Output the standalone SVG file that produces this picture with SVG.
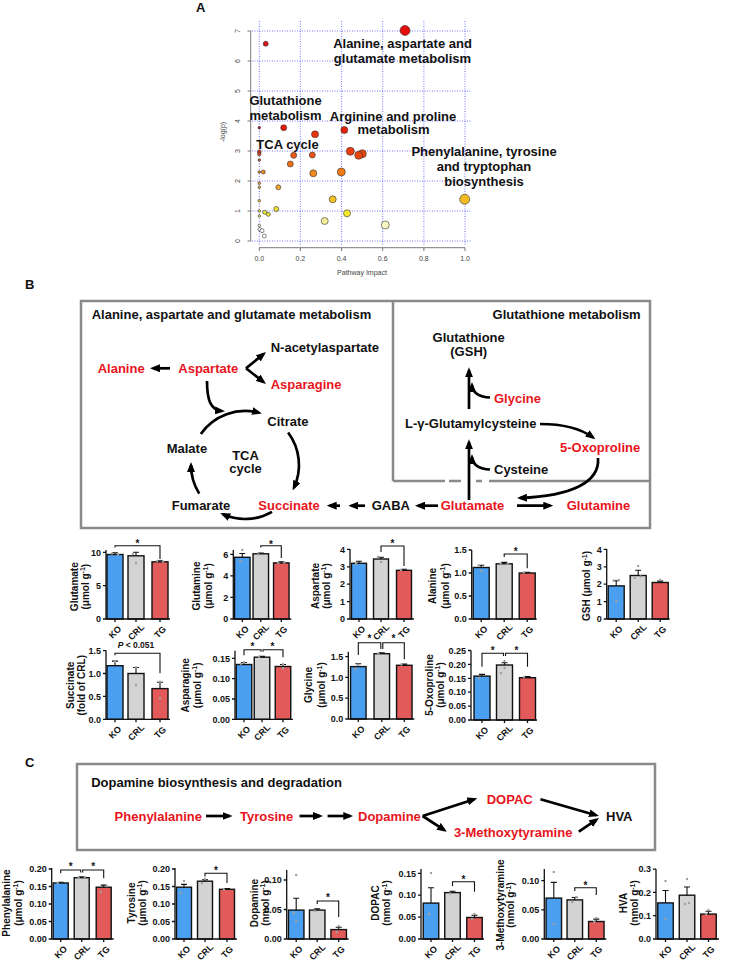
<svg xmlns="http://www.w3.org/2000/svg" width="734" height="961" viewBox="0 0 734 961">
<style>
text{font-family:'Liberation Sans',Arial,sans-serif;}
.pl{font-size:13px;font-weight:bold;fill:#111}
.red{fill:#e8141c}
.box{fill:none;stroke:#8a8a8a;stroke-width:2.5}
.arr{fill:none;stroke:#000;stroke-width:2.7;marker-end:url(#ah)}
.grid{stroke:#3b3bff;stroke-width:0.7;stroke-dasharray:1 1.5}
.axA{stroke:#555;stroke-width:0.8;fill:none}
.tA{font-size:7px;fill:#444;text-anchor:middle}
.bub{stroke:#333;stroke-width:0.6}
.ax{fill:none;stroke:#111;stroke-width:1.3}
.ko{fill:#4b9ff0;stroke:#111;stroke-width:1.4}
.crl{fill:#d3d3d3;stroke:#111;stroke-width:1.4}
.tg{fill:#e35a5a;stroke:#111;stroke-width:1.4}
.eb{fill:none;stroke:#111;stroke-width:1.1}
.br{fill:none;stroke:#111;stroke-width:1.1}
.tk{font-size:9px;font-weight:bold;text-anchor:end;fill:#111}
.xl{font-size:9px;font-weight:bold;text-anchor:middle;fill:#111}
.yl{font-size:10px;font-weight:bold;text-anchor:middle;fill:#111}
.st{font-size:10px;font-weight:bold;text-anchor:middle;fill:#111}
.dt{fill:#a0a0a0}
</style>
<defs>
<marker id="ah" viewBox="0 0 10 8" refX="7" refY="4" markerWidth="10" markerHeight="8" markerUnits="userSpaceOnUse" orient="auto"><path d="M0,0 L10,4 L0,8 z" fill="#000"/></marker>
</defs>
<rect width="734" height="961" fill="#fff"/>

<!-- Panel A -->
<g id="panelA">
<text class="pl" x="196" y="12">A</text>
<g class="grid">
<path d="M259.3,21V245 M300.4,21V245 M341.6,21V245 M382.7,21V245 M423.9,21V245 M465,21V245"/>
<path d="M252,241H472 M252,211H472 M252,181H472 M252,151H472 M252,121H472 M252,91H472 M252,61H472 M252,31H472"/>
</g>
<path class="axA" d="M250.7,31V241 M247.5,241H250.7 M247.5,211H250.7 M247.5,181H250.7 M247.5,151H250.7 M247.5,121H250.7 M247.5,91H250.7 M247.5,61H250.7 M247.5,31H250.7"/>
<path class="axA" d="M259.3,247.7H465 M259.3,247.7V251 M300.4,247.7V251 M341.6,247.7V251 M382.7,247.7V251 M423.9,247.7V251 M465,247.7V251"/>
<g class="tA">
<text transform="translate(239.5,241) rotate(-90)">0</text>
<text transform="translate(239.5,211) rotate(-90)">1</text>
<text transform="translate(239.5,181) rotate(-90)">2</text>
<text transform="translate(239.5,151) rotate(-90)">3</text>
<text transform="translate(239.5,121) rotate(-90)">4</text>
<text transform="translate(239.5,91) rotate(-90)">5</text>
<text transform="translate(239.5,61) rotate(-90)">6</text>
<text transform="translate(239.5,31) rotate(-90)">7</text>
<text x="259.3" y="260.5">0.0</text>
<text x="300.4" y="260.5">0.2</text>
<text x="341.6" y="260.5">0.4</text>
<text x="382.7" y="260.5">0.6</text>
<text x="423.9" y="260.5">0.8</text>
<text x="465" y="260.5">1.0</text>
<text x="362" y="275">Pathway Impact</text>
<text transform="translate(225,132) rotate(-90)">-log(p)</text>
</g>
<g class="bub">
<circle cx="405" cy="30.5" r="5" fill="#e60d0d"/>
<circle cx="265.7" cy="43.7" r="2.5" fill="#d81414"/>
<circle cx="283.7" cy="127.7" r="3" fill="#e61a0a"/>
<circle cx="259.3" cy="127.7" r="1.3" fill="#b01515"/>
<circle cx="315" cy="134.3" r="3.5" fill="#e8340c"/>
<circle cx="344.3" cy="130" r="3.5" fill="#e8200a"/>
<circle cx="350.3" cy="151.3" r="4" fill="#ea3c0c"/>
<circle cx="362.3" cy="153.7" r="4" fill="#ea450e"/>
<circle cx="358.7" cy="155.3" r="4" fill="#ea450e"/>
<circle cx="293.7" cy="155.3" r="3" fill="#ec5a14"/>
<circle cx="312.3" cy="155" r="3" fill="#ec5012"/>
<circle cx="290.3" cy="164" r="3" fill="#ee7018"/>
<circle cx="313.3" cy="173.3" r="3.5" fill="#f08a1e"/>
<circle cx="341.3" cy="172" r="4" fill="#ee7a18"/>
<circle cx="259.3" cy="151.7" r="1.8" fill="#d83018"/>
<circle cx="259.3" cy="154" r="1.8" fill="#d84018"/>
<circle cx="259.3" cy="160" r="1.3" fill="#e06020"/>
<circle cx="259.3" cy="172" r="1.3" fill="#e88020"/>
<circle cx="263.3" cy="172" r="2" fill="#ec8a20"/>
<circle cx="259.3" cy="183.3" r="1.3" fill="#eea030"/>
<circle cx="259.3" cy="187.3" r="1.3" fill="#eea830"/>
<circle cx="278.3" cy="187.3" r="2.5" fill="#f0a830"/>
<circle cx="259.3" cy="200.7" r="1.3" fill="#f0c030"/>
<circle cx="332.7" cy="199.3" r="3.5" fill="#f4c020"/>
<circle cx="464.7" cy="199.3" r="5" fill="#f4b820"/>
<circle cx="259.3" cy="211" r="1.3" fill="#e8e040"/>
<circle cx="264.7" cy="212.3" r="2" fill="#f0e840"/>
<circle cx="268.3" cy="214.3" r="2" fill="#f0e840"/>
<circle cx="276.3" cy="209" r="2.5" fill="#eee030"/>
<circle cx="259.3" cy="216" r="1.3" fill="#e8e060"/>
<circle cx="347" cy="213.3" r="3.5" fill="#f6ea30"/>
<circle cx="324.7" cy="221" r="3.5" fill="#f6f09a"/>
<circle cx="385.3" cy="225" r="4" fill="#fafac0"/>
<circle cx="259.3" cy="225.5" r="1.3" fill="#fafae0"/>
<circle cx="259.8" cy="229.3" r="1.8" fill="#ffffff"/>
<circle cx="262" cy="230.7" r="2" fill="#ffffff"/>
<circle cx="264.3" cy="236" r="2" fill="#ffffff"/>
</g>
<g class="pl" text-anchor="middle">
<text x="402.5" y="48">Alanine, aspartate and</text>
<text x="402.5" y="63">glutamate metabolism</text>
<text x="285.5" y="105">Glutathione</text>
<text x="285.5" y="120">metabolism</text>
<text x="393" y="120.5">Arginine and proline</text>
<text x="393.5" y="134">metabolism</text>
<text x="287.5" y="149.3">TCA cycle</text>
<text x="484" y="156">Phenylalanine, tyrosine</text>
<text x="484" y="171">and tryptophan</text>
<text x="484" y="186">biosynthesis</text>
</g>
</g>

<!-- Panel B -->
<text class="pl" x="25" y="289">B</text>
<g id="boxes">
<rect class="box" x="81" y="301" width="569" height="227"/>
<path class="box" d="M393,301V481 M393,481H445 M449,481H461 M476,481H482 M489,481H650"/>
</g>
<g class="pl">
<text x="91.7" y="319.3">Alanine, aspartate and glutamate metabolism</text>
<text x="640.7" y="319.3" text-anchor="end">Glutathione metabolism</text>
</g>
<g id="node-nacetylaspartate"><text class="pl" x="270.7" y="351.7">N-acetylaspartate</text></g>
<g id="node-alanine"><text class="pl red" x="97.7" y="372.7">Alanine</text></g>
<g id="node-aspartate"><text class="pl red" x="178.3" y="372.7">Aspartate</text></g>
<g id="node-asparagine"><text class="pl red" x="270.7" y="389.3">Asparagine</text></g>
<g id="node-citrate"><text class="pl" x="267.3" y="425.7">Citrate</text></g>
<g id="node-malate"><text class="pl" x="166.7" y="452.7">Malate</text></g>
<g id="node-tca"><text class="pl" x="245.5" y="460" text-anchor="middle">TCA</text><text class="pl" x="245.5" y="473.3" text-anchor="middle">cycle</text></g>
<g id="node-fumarate"><text class="pl" x="171.7" y="510">Fumarate</text></g>
<g id="node-succinate"><text class="pl red" x="258.3" y="510">Succinate</text></g>
<g id="node-gaba"><text class="pl" x="371.7" y="510">GABA</text></g>
<g id="node-glutamate"><text class="pl red" x="440.7" y="510">Glutamate</text></g>
<g id="node-glutamine"><text class="pl red" x="566.7" y="510">Glutamine</text></g>
<g id="node-gsh"><text class="pl" x="468.7" y="341.7" text-anchor="middle">Glutathione</text><text class="pl" x="468.7" y="356" text-anchor="middle">(GSH)</text></g>
<g id="node-glycine"><text class="pl red" x="494" y="403.3">Glycine</text></g>
<g id="node-glucys"><text class="pl" x="405" y="428.3">L-γ-Glutamylcysteine</text></g>
<g id="node-oxoproline"><text class="pl red" x="560" y="451.7">5-Oxoproline</text></g>
<g id="node-cysteine"><text class="pl" x="494" y="474.3">Cysteine</text></g>

<g id="connectors">
<path class="arr" d="M170,368.3H153"/>
<path class="arr" d="M246,368.3L263.7,353.9"/>
<path class="arr" d="M246,368.3L263.6,382.1"/>
<path class="arr" d="M207,381C207,401 211,410 222,411"/>
<path class="arr" d="M200.8,434A54,54 0 0 1 259,412.8"/>
<path class="arr" d="M288.1,432.5A54,54 0 0 1 293.9,487.8"/>
<path class="arr" d="M272,511.8A54,54 0 0 1 223,514.3"/>
<path class="arr" d="M199.2,493.6A54,54 0 0 1 191,465"/>
<path class="arr" d="M340,505.7H329.7"/>
<path class="arr" d="M365,505.7H351.3"/>
<path class="arr" d="M438,505.7H418"/>
<path class="arr" d="M517,505.7H550.3"/>
<path class="arr" d="M469,500V442.3"/>
<path class="arr" d="M469,409V370.3"/>
<path class="arr" d="M490,397.5C480,397 472,393 472,385"/>
<path class="arr" d="M490,469.5C480,469 472,465 472,457"/>
<path class="arr" d="M540,424C562,424 580,428 593,437.5"/>
<path class="arr" d="M598,458C600,482 572,496 520,498"/>
<path class="arr" d="M206,816H229.6"/>
<path class="arr" d="M299.5,816H320"/>
<path class="arr" d="M327.6,816H350.3"/>
<path class="arr" d="M422.6,816L474.4,799.2"/>
<path class="arr" d="M422.6,816L444.4,830.1"/>
<path class="arr" d="M540.5,799.3L596.1,815.2"/>
<path class="arr" d="M578.8,831.7L596.5,819.7"/>
</g>

<!-- Row 1 charts -->
<g id="chart-glutamate" transform="translate(106,619)">
<rect class="ko" x="1" y="-64.5" width="16" height="64.5"/>
<rect class="crl" x="22" y="-63.2" width="16" height="63.2"/>
<rect class="tg" x="46" y="-57.2" width="16" height="57.2"/>
<path class="eb" d="M9,-64.5V-66.3M6,-66.3H12 M30,-63.2V-66.7M27,-66.7H33 M54,-57.2V-58.3M51,-58.3H57"/>
<g class="dt"><circle cx="6" cy="-65.5" r="1.2"/><circle cx="12" cy="-64.5" r="1.2"/><circle cx="30" cy="-56" r="1.2"/><circle cx="27" cy="-65" r="1.2"/><circle cx="51" cy="-58" r="1.2"/><circle cx="57" cy="-57.5" r="1.2"/></g>
<path class="ax" d="M0,-69V0H64 M-3,0H0 M-3,-33.3H0 M-3,-66.7H0 M9,0V3 M30,0V3 M54,0V3"/>
<text class="tk" x="-5" y="3.2">0</text><text class="tk" x="-5" y="-30.1">5</text><text class="tk" x="-5" y="-63.5">10</text>
<path class="br" d="M9,-71.5V-73.3H54V-60"/>
<text class="st" x="31.5" y="-72">*</text>
<text class="xl" transform="translate(11.3,15.3) rotate(-45)">KO</text>
<text class="xl" transform="translate(32.3,15.3) rotate(-45)">CRL</text>
<text class="xl" transform="translate(56.3,15.3) rotate(-45)">TG</text>
<text class="yl" transform="translate(-28.4,-32.3) rotate(-90)">Glutamate</text>
<text class="yl" transform="translate(-17.4,-32.3) rotate(-90)">(μmol g<tspan font-size="7" dy="-3.5">-1</tspan><tspan dy="3.5">)</tspan></text>
</g>

<g id="chart-glutamine" transform="translate(233.3,619)">
<rect class="ko" x="1.25" y="-61.7" width="15.5" height="61.7"/>
<rect class="crl" x="19.75" y="-65.2" width="15.5" height="65.2"/>
<rect class="tg" x="40.25" y="-56.1" width="15.5" height="56.1"/>
<path class="eb" d="M9,-61.7V-65.5M6,-65.5H12 M27.5,-65.2V-66M24.5,-66H30.5 M48,-56.1V-57.2M45,-57.2H51"/>
<g class="dt"><circle cx="9" cy="-69" r="1.2"/><circle cx="7" cy="-58" r="1.2"/><circle cx="25" cy="-64.5" r="1.2"/><circle cx="45" cy="-56" r="1.2"/><circle cx="51" cy="-56.5" r="1.2"/></g>
<path class="ax" d="M0,-69V0H58 M-3,0H0 M-3,-21.6H0 M-3,-43.1H0 M-3,-64.7H0 M9,0V3 M27.5,0V3 M48,0V3"/>
<text class="tk" x="-5" y="3.2">0</text><text class="tk" x="-5" y="-18.4">2</text><text class="tk" x="-5" y="-39.9">4</text><text class="tk" x="-5" y="-61.5">6</text>
<path class="br" d="M27.5,-71.5V-73.3H48V-61"/>
<text class="st" x="37.75" y="-71.3">*</text>
<text class="xl" transform="translate(11.3,15.3) rotate(-45)">KO</text>
<text class="xl" transform="translate(29.8,15.3) rotate(-45)">CRL</text>
<text class="xl" transform="translate(50.3,15.3) rotate(-45)">TG</text>
<text class="yl" transform="translate(-33,-33) rotate(-90)">Glutamine</text>
<text class="yl" transform="translate(-21.4,-33) rotate(-90)">(μmol g<tspan font-size="7" dy="-3.5">-1</tspan><tspan dy="3.5">)</tspan></text>
</g>

<g id="chart-aspartate" transform="translate(350,619)">
<rect class="ko" x="1.5" y="-55.7" width="15" height="55.7"/>
<rect class="crl" x="23.5" y="-60" width="15" height="60"/>
<rect class="tg" x="46.5" y="-48.7" width="15" height="48.7"/>
<path class="eb" d="M9,-55.7V-57.8M6,-57.8H12 M31,-60V-61.8M28,-61.8H34 M54,-48.7V-49.8M51,-49.8H57"/>
<g class="dt"><circle cx="6" cy="-55" r="1.2"/><circle cx="31" cy="-57" r="1.2"/><circle cx="28" cy="-62" r="1.2"/><circle cx="51" cy="-49" r="1.2"/></g>
<path class="ax" d="M0,-70V0H64 M-3,0H0 M-3,-17.4H0 M-3,-34.8H0 M-3,-52.2H0 M-3,-69.6H0 M9,0V3 M31,0V3 M54,0V3"/>
<text class="tk" x="-5" y="3.2">0</text><text class="tk" x="-5" y="-14.2">1</text><text class="tk" x="-5" y="-31.6">2</text><text class="tk" x="-5" y="-49">3</text><text class="tk" x="-5" y="-66.4">4</text>
<path class="br" d="M31,-67V-73H54V-53"/>
<text class="st" x="42.5" y="-72.5">*</text>
<text class="xl" transform="translate(11.3,15.3) rotate(-45)">KO</text>
<text class="xl" transform="translate(33.3,15.3) rotate(-45)">CRL</text>
<text class="xl" transform="translate(56.3,15.3) rotate(-45)">TG</text>
<text class="yl" transform="translate(-31.4,-33) rotate(-90)">Aspartate</text>
<text class="yl" transform="translate(-20.4,-33) rotate(-90)">(μmol g<tspan font-size="7" dy="-3.5">-1</tspan><tspan dy="3.5">)</tspan></text>
</g>

<g id="chart-alanine" transform="translate(471.7,619)">
<rect class="ko" x="1.5" y="-51.5" width="16" height="51.5"/>
<rect class="crl" x="24.5" y="-55.2" width="16" height="55.2"/>
<rect class="tg" x="47.5" y="-46" width="16" height="46"/>
<path class="eb" d="M9.5,-51.5V-53.8M6.5,-53.8H12.5 M32.5,-55.2V-56.6M29.5,-56.6H35.5 M55.5,-46V-46.7M52.5,-46.7H58.5"/>
<g class="dt"><circle cx="9.5" cy="-48" r="1.2"/><circle cx="7" cy="-53.5" r="1.2"/><circle cx="29" cy="-55.5" r="1.2"/><circle cx="36" cy="-55.5" r="1.2"/><circle cx="52" cy="-46.5" r="1.2"/></g>
<path class="ax" d="M0,-69V0H65 M-3,0H0 M-3,-23H0 M-3,-46H0 M-3,-69H0 M9.5,0V3 M32.5,0V3 M55.5,0V3"/>
<text class="tk" x="-5" y="3.2">0.0</text><text class="tk" x="-5" y="-19.8">0.5</text><text class="tk" x="-5" y="-42.8">1.0</text><text class="tk" x="-5" y="-65.8">1.5</text>
<path class="br" d="M32.5,-62V-65H55.5V-50.7"/>
<text class="st" x="44" y="-64.5">*</text>
<text class="xl" transform="translate(11.8,15.3) rotate(-45)">KO</text>
<text class="xl" transform="translate(34.8,15.3) rotate(-45)">CRL</text>
<text class="xl" transform="translate(57.8,15.3) rotate(-45)">TG</text>
<text class="yl" transform="translate(-35.4,-33) rotate(-90)">Alanine</text>
<text class="yl" transform="translate(-23.1,-33) rotate(-90)">(μmol g<tspan font-size="7" dy="-3.5">-1</tspan><tspan dy="3.5">)</tspan></text>
</g>

<g id="chart-gsh" transform="translate(606.7,619)">
<rect class="ko" x="1.5" y="-33.1" width="16" height="33.1"/>
<rect class="crl" x="23.5" y="-43.5" width="16" height="43.5"/>
<rect class="tg" x="45.5" y="-36.5" width="16" height="36.5"/>
<path class="eb" d="M9.5,-33.1V-38.3M6.5,-38.3H12.5 M31.5,-43.5V-48.7M28.5,-48.7H34.5 M53.5,-36.5V-37.9M50.5,-37.9H56.5"/>
<g class="dt"><circle cx="7" cy="-38.5" r="1.2"/><circle cx="12" cy="-39" r="1.2"/><circle cx="9.5" cy="-18" r="1.2"/><circle cx="31.5" cy="-53" r="1.2"/><circle cx="28" cy="-41" r="1.2"/><circle cx="34" cy="-42.5" r="1.2"/><circle cx="53.5" cy="-39" r="1.2"/></g>
<path class="ax" d="M0,-70V0H63 M-3,0H0 M-3,-17.4H0 M-3,-34.8H0 M-3,-52.2H0 M-3,-69.6H0 M9.5,0V3 M31.5,0V3 M53.5,0V3"/>
<text class="tk" x="-5" y="3.2">0</text><text class="tk" x="-5" y="-14.2">1</text><text class="tk" x="-5" y="-31.6">2</text><text class="tk" x="-5" y="-49">3</text><text class="tk" x="-5" y="-66.4">4</text>
<text class="xl" transform="translate(11.8,15.3) rotate(-45)">KO</text>
<text class="xl" transform="translate(33.8,15.3) rotate(-45)">CRL</text>
<text class="xl" transform="translate(55.8,15.3) rotate(-45)">TG</text>
<text class="yl" transform="translate(-16.4,-33) rotate(-90)">GSH (μmol g<tspan font-size="7" dy="-3.5">-1</tspan><tspan dy="3.5">)</tspan></text>
</g>

<!-- Row 2 -->
<g id="chart-succinate" transform="translate(106,719.3)">
<rect class="ko" x="1" y="-53.6" width="16" height="53.6"/>
<rect class="crl" x="22" y="-45.8" width="16" height="45.8"/>
<rect class="tg" x="46" y="-30.7" width="16" height="30.7"/>
<path class="eb" d="M9,-53.6V-58.2M6,-58.2H12 M30,-45.8V-51.8M27,-51.8H33 M54,-30.7V-37.1M51,-37.1H57"/>
<g class="dt"><circle cx="9" cy="-57.6" r="1.2"/><circle cx="30" cy="-52" r="1.2"/><circle cx="30" cy="-34.3" r="1.2"/><circle cx="54" cy="-37.6" r="1.2"/><circle cx="54" cy="-21" r="1.2"/></g>
<path class="ax" d="M0,-69V0H64 M-3,0H0 M-3,-22.9H0 M-3,-45.8H0 M-3,-68.7H0 M9,0V3 M30,0V3 M54,0V3"/>
<text class="tk" x="-5" y="3.2">0.0</text><text class="tk" x="-5" y="-19.7">0.5</text><text class="tk" x="-5" y="-42.6">1.0</text><text class="tk" x="-5" y="-65.5">1.5</text>
<path class="br" d="M9,-64V-66H54V-46"/>
<text x="30" y="-71" font-size="8.5" font-weight="bold" text-anchor="middle" fill="#111"><tspan font-style="italic">P</tspan> &lt; 0.051</text>
<text class="xl" transform="translate(11.3,15.3) rotate(-45)">KO</text>
<text class="xl" transform="translate(32.3,15.3) rotate(-45)">CRL</text>
<text class="xl" transform="translate(56.3,15.3) rotate(-45)">TG</text>
<text class="yl" transform="translate(-32.4,-34) rotate(-90)">Succinate</text>
<text class="yl" transform="translate(-20.7,-34) rotate(-90)">(fold of CRL)</text>
</g>

<g id="chart-asparagine" transform="translate(235,719.3)">
<rect class="ko" x="1.25" y="-54.8" width="15.5" height="54.8"/>
<rect class="crl" x="19.25" y="-62.1" width="15.5" height="62.1"/>
<rect class="tg" x="40.25" y="-52.8" width="15.5" height="52.8"/>
<path class="eb" d="M9,-54.8V-56.8M6,-56.8H12 M27,-62.1V-62.9M24,-62.9H30 M48,-52.8V-54.8M45,-54.8H51"/>
<g class="dt"><circle cx="9" cy="-57" r="1.2"/><circle cx="6" cy="-55.5" r="1.2"/><circle cx="24" cy="-62.5" r="1.2"/><circle cx="48" cy="-55" r="1.2"/><circle cx="48" cy="-51" r="1.2"/></g>
<path class="ax" d="M0,-68.6V0H58 M-3,0H0 M-3,-20.3H0 M-3,-40.6H0 M-3,-60.9H0 M9,0V3 M27,0V3 M48,0V3"/>
<text class="tk" x="-5" y="3.2">0.00</text><text class="tk" x="-5" y="-17.1">0.05</text><text class="tk" x="-5" y="-37.4">0.10</text><text class="tk" x="-5" y="-57.7">0.15</text>
<path class="br" d="M9,-64V-69.6H26V-67.5 M28,-67.5V-69.6H48V-62"/>
<text class="st" x="17.5" y="-69.1">*</text><text class="st" x="37.5" y="-69.1">*</text>
<text class="xl" transform="translate(11.3,15.3) rotate(-45)">KO</text>
<text class="xl" transform="translate(29.3,15.3) rotate(-45)">CRL</text>
<text class="xl" transform="translate(50.3,15.3) rotate(-45)">TG</text>
<text class="yl" transform="translate(-46.4,-34) rotate(-90)">Asparagine</text>
<text class="yl" transform="translate(-34.1,-34) rotate(-90)">(μmol g<tspan font-size="7" dy="-3.5">-1</tspan><tspan dy="3.5">)</tspan></text>
</g>

<g id="chart-glycine" transform="translate(348.3,719)">
<rect class="ko" x="2.25" y="-52.4" width="15.5" height="52.4"/>
<rect class="crl" x="25.75" y="-65.3" width="15.5" height="65.3"/>
<rect class="tg" x="48.25" y="-53.7" width="15.5" height="53.7"/>
<path class="eb" d="M10,-52.4V-55.3M7,-55.3H13 M33.5,-65.3V-66.2M30.5,-66.2H36.5 M56,-53.7V-54.9M53,-54.9H59"/>
<g class="dt"><circle cx="10" cy="-54" r="1.2"/><circle cx="7" cy="-50" r="1.2"/><circle cx="30" cy="-65.5" r="1.2"/><circle cx="53" cy="-54.5" r="1.2"/></g>
<path class="ax" d="M0,-67.3V0H66 M-3,0H0 M-3,-20.8H0 M-3,-41.6H0 M-3,-62.4H0 M10,0V3 M33.5,0V3 M56,0V3"/>
<text class="tk" x="-5" y="3.2">0.0</text><text class="tk" x="-5" y="-17.6">0.5</text><text class="tk" x="-5" y="-38.4">1.0</text><text class="tk" x="-5" y="-59.2">1.5</text>
<path class="br" d="M10,-64V-76.3H32.5V-70 M34.5,-70V-76.3H56V-59.7"/>
<text class="st" x="21.25" y="-77.5">*</text><text class="st" x="45.25" y="-77.5">*</text>
<text class="xl" transform="translate(12.3,15.3) rotate(-45)">KO</text>
<text class="xl" transform="translate(35.8,15.3) rotate(-45)">CRL</text>
<text class="xl" transform="translate(58.3,15.3) rotate(-45)">TG</text>
<text class="yl" transform="translate(-36.4,-34) rotate(-90)">Glycine</text>
<text class="yl" transform="translate(-23,-34) rotate(-90)">(μmol g<tspan font-size="7" dy="-3.5">-1</tspan><tspan dy="3.5">)</tspan></text>
</g>

<g id="chart-oxoproline" transform="translate(471,720)">
<rect class="ko" x="3" y="-43.9" width="16" height="43.9"/>
<rect class="crl" x="25.5" y="-55" width="16" height="55"/>
<rect class="tg" x="48.5" y="-42.3" width="16" height="42.3"/>
<path class="eb" d="M11,-43.9V-45.6M8,-45.6H14 M33.5,-55V-57.3M30.5,-57.3H36.5 M56.5,-42.3V-43.4M53.5,-43.4H59.5"/>
<g class="dt"><circle cx="8" cy="-42" r="1.2"/><circle cx="33.5" cy="-59" r="1.2"/><circle cx="33.5" cy="-52" r="1.2"/><circle cx="30" cy="-47" r="1.2"/><circle cx="53" cy="-43" r="1.2"/></g>
<path class="ax" d="M0,-69.5V0H66 M-3,0H0 M-3,-13.9H0 M-3,-27.8H0 M-3,-41.7H0 M-3,-55.6H0 M-3,-69.5H0 M11,0V3 M33.5,0V3 M56.5,0V3"/>
<text class="tk" x="-5" y="3.2">0.00</text><text class="tk" x="-5" y="-10.7">0.05</text><text class="tk" x="-5" y="-24.6">0.10</text><text class="tk" x="-5" y="-38.5">0.15</text><text class="tk" x="-5" y="-52.4">0.20</text><text class="tk" x="-5" y="-66.3">0.25</text>
<path class="br" d="M11,-53.3V-66.7H32.5V-64 M34.5,-64V-66.7H56.5V-53.3"/>
<text class="st" x="21.75" y="-66.5">*</text><text class="st" x="45.5" y="-66.5">*</text>
<text class="xl" transform="translate(13.3,15.3) rotate(-45)">KO</text>
<text class="xl" transform="translate(35.8,15.3) rotate(-45)">CRL</text>
<text class="xl" transform="translate(58.8,15.3) rotate(-45)">TG</text>
<text class="yl" transform="translate(-38.4,-35) rotate(-90)">5-Oxoproline</text>
<text class="yl" transform="translate(-27.4,-35) rotate(-90)">(μmol g<tspan font-size="7" dy="-3.5">-1</tspan><tspan dy="3.5">)</tspan></text>
</g>

<!-- Panel C -->
<text class="pl" x="25" y="767">C</text>
<rect class="box" x="77" y="764" width="578" height="86"/>
<text class="pl" x="91.2" y="787.3">Dopamine biosynthesis and degradation</text>
<g id="node-phenylalanine"><text class="pl red" x="114.6" y="820.7">Phenylalanine</text></g>
<g id="node-tyrosine"><text class="pl red" x="240" y="820.7">Tyrosine</text></g>
<g id="node-dopamine"><text class="pl red" x="358" y="820.7">Dopamine</text></g>
<g id="node-dopac"><text class="pl red" x="486.7" y="804">DOPAC</text></g>
<g id="node-3mt"><text class="pl red" x="453.9" y="837.3">3-Methoxytyramine</text></g>
<g id="node-hva"><text class="pl" x="606" y="820.7">HVA</text></g>

<!-- Row 3 -->
<g id="chart-phenylalanine" transform="translate(51.7,939)">
<rect class="ko" x="1.5" y="-56" width="15" height="56"/>
<rect class="crl" x="22.5" y="-61.3" width="15" height="61.3"/>
<rect class="tg" x="44.5" y="-51.8" width="15" height="51.8"/>
<path class="eb" d="M9,-56V-56.7M6,-56.7H12 M30,-61.3V-62.3M27,-62.3H33 M52,-51.8V-53.9M49,-53.9H55"/>
<g class="dt"><circle cx="6" cy="-56" r="1.2"/><circle cx="27" cy="-61" r="1.2"/><circle cx="33" cy="-62" r="1.2"/><circle cx="49" cy="-47" r="1.2"/><circle cx="55" cy="-53" r="1.2"/></g>
<path class="ax" d="M0,-71V0H62 M-3,0H0 M-3,-17.5H0 M-3,-35H0 M-3,-52.5H0 M-3,-70H0 M9,0V3 M30,0V3 M52,0V3"/>
<text class="tk" x="-5" y="3.2">0.00</text><text class="tk" x="-5" y="-14.3">0.05</text><text class="tk" x="-5" y="-31.8">0.10</text><text class="tk" x="-5" y="-49.3">0.15</text><text class="tk" x="-5" y="-66.8">0.20</text>
<path class="br" d="M9,-65.7V-69H29V-66.5 M31,-66.5V-69H52V-60.7"/>
<text class="st" x="19" y="-68.8">*</text><text class="st" x="41.5" y="-68.8">*</text>
<text class="xl" transform="translate(11.3,15.3) rotate(-45)">KO</text>
<text class="xl" transform="translate(32.3,15.3) rotate(-45)">CRL</text>
<text class="xl" transform="translate(54.3,15.3) rotate(-45)">TG</text>
<text class="yl" transform="translate(-41.4,-36) rotate(-90)">Phenylalanine</text>
<text class="yl" transform="translate(-29.8,-36) rotate(-90)">(μmol g<tspan font-size="7" dy="-3.5">-1</tspan><tspan dy="3.5">)</tspan></text>
</g>

<g id="chart-tyrosine" transform="translate(175,939)">
<rect class="ko" x="1.5" y="-51.8" width="15" height="51.8"/>
<rect class="crl" x="22.5" y="-57.8" width="15" height="57.8"/>
<rect class="tg" x="44.5" y="-49.7" width="15" height="49.7"/>
<path class="eb" d="M9,-51.8V-54.6M6,-54.6H12 M30,-57.8V-59.2M27,-59.2H33 M52,-49.7V-50.4M49,-50.4H55"/>
<g class="dt"><circle cx="9" cy="-58" r="1.2"/><circle cx="6" cy="-46" r="1.2"/><circle cx="30" cy="-60" r="1.2"/><circle cx="27" cy="-56" r="1.2"/><circle cx="49" cy="-49.5" r="1.2"/></g>
<path class="ax" d="M0,-71V0H62 M-3,0H0 M-3,-17.5H0 M-3,-35H0 M-3,-52.5H0 M-3,-70H0 M9,0V3 M30,0V3 M52,0V3"/>
<text class="tk" x="-5" y="3.2">0.00</text><text class="tk" x="-5" y="-14.3">0.05</text><text class="tk" x="-5" y="-31.8">0.10</text><text class="tk" x="-5" y="-49.3">0.15</text><text class="tk" x="-5" y="-66.8">0.20</text>
<path class="br" d="M30,-62.5V-65.7H52V-56"/>
<text class="st" x="41" y="-65.5">*</text>
<text class="xl" transform="translate(11.3,15.3) rotate(-45)">KO</text>
<text class="xl" transform="translate(32.3,15.3) rotate(-45)">CRL</text>
<text class="xl" transform="translate(54.3,15.3) rotate(-45)">TG</text>
<text class="yl" transform="translate(-40.4,-36) rotate(-90)">Tyrosine</text>
<text class="yl" transform="translate(-29.1,-36) rotate(-90)">(μmol g<tspan font-size="7" dy="-3.5">-1</tspan><tspan dy="3.5">)</tspan></text>
</g>

<g id="chart-dopamine" transform="translate(286.7,939)">
<rect class="ko" x="1.75" y="-28.9" width="15.5" height="28.9"/>
<rect class="crl" x="22.75" y="-28.9" width="15.5" height="28.9"/>
<rect class="tg" x="44.25" y="-9.4" width="15.5" height="9.4"/>
<path class="eb" d="M9.5,-28.9V-40.7M6.5,-40.7H12.5 M30.5,-28.9V-30.1M27.5,-30.1H33.5 M52,-9.4V-11.8M49,-11.8H55"/>
<g class="dt"><circle cx="9.5" cy="-64" r="1.2"/><circle cx="9.5" cy="-18" r="1.2"/><circle cx="7" cy="-26" r="1.2"/><circle cx="28" cy="-28" r="1.2"/><circle cx="52" cy="-13" r="1.2"/><circle cx="50" cy="-7" r="1.2"/></g>
<path class="ax" d="M0,-69V0H62 M-3,0H0 M-3,-29.5H0 M-3,-59H0 M9.5,0V3 M30.5,0V3 M52,0V3"/>
<text class="tk" x="-5" y="3.2">0.00</text><text class="tk" x="-5" y="-26.3">0.05</text><text class="tk" x="-5" y="-55.8">0.10</text>
<path class="br" d="M30.5,-35V-38H52V-22"/>
<text class="st" x="41.25" y="-38.3">*</text>
<text class="xl" transform="translate(11.8,15.3) rotate(-45)">KO</text>
<text class="xl" transform="translate(32.8,15.3) rotate(-45)">CRL</text>
<text class="xl" transform="translate(54.3,15.3) rotate(-45)">TG</text>
<text class="yl" transform="translate(-29.1,-36) rotate(-90)">Dopamine</text>
<text class="yl" transform="translate(-18.1,-36) rotate(-90)">(nmol g<tspan font-size="7" dy="-3.5">-1</tspan><tspan dy="3.5">)</tspan></text>
</g>

<g id="chart-dopac" transform="translate(421,939)">
<rect class="ko" x="2.25" y="-35.9" width="15.5" height="35.9"/>
<rect class="crl" x="23.75" y="-46.4" width="15.5" height="46.4"/>
<rect class="tg" x="45.75" y="-21.5" width="15.5" height="21.5"/>
<path class="eb" d="M10,-35.9V-51.3M7,-51.3H13 M31.5,-46.4V-47.7M28.5,-47.7H34.5 M53.5,-21.5V-23.7M50.5,-23.7H56.5"/>
<g class="dt"><circle cx="10" cy="-66" r="1.2"/><circle cx="8" cy="-25" r="1.2"/><circle cx="29" cy="-45.5" r="1.2"/><circle cx="53.5" cy="-25" r="1.2"/><circle cx="51" cy="-20" r="1.2"/></g>
<path class="ax" d="M0,-70V0H63 M-3,0H0 M-3,-21.9H0 M-3,-43.8H0 M-3,-65.7H0 M10,0V3 M31.5,0V3 M53.5,0V3"/>
<text class="tk" x="-5" y="3.2">0.00</text><text class="tk" x="-5" y="-18.7">0.05</text><text class="tk" x="-5" y="-40.6">0.10</text><text class="tk" x="-5" y="-62.5">0.15</text>
<path class="br" d="M31.5,-53V-57.3H53.5V-47.3"/>
<text class="st" x="42.5" y="-56.3">*</text>
<text class="xl" transform="translate(12.3,15.3) rotate(-45)">KO</text>
<text class="xl" transform="translate(33.8,15.3) rotate(-45)">CRL</text>
<text class="xl" transform="translate(55.8,15.3) rotate(-45)">TG</text>
<text class="yl" transform="translate(-42.4,-36) rotate(-90)">DOPAC</text>
<text class="yl" transform="translate(-30.7,-36) rotate(-90)">(nmol g<tspan font-size="7" dy="-3.5">-1</tspan><tspan dy="3.5">)</tspan></text>
</g>

<g id="chart-3mt" transform="translate(544.3,939)">
<rect class="ko" x="1.75" y="-40.9" width="15.5" height="40.9"/>
<rect class="crl" x="22.75" y="-39.1" width="15.5" height="39.1"/>
<rect class="tg" x="44.25" y="-17.5" width="15.5" height="17.5"/>
<path class="eb" d="M9.5,-40.9V-56.6M6.5,-56.6H12.5 M30.5,-39.1V-41.5M27.5,-41.5H33.5 M52,-17.5V-19.9M49,-19.9H55"/>
<g class="dt"><circle cx="9.5" cy="-67" r="1.2"/><circle cx="9.5" cy="-15" r="1.2"/><circle cx="28" cy="-37" r="1.2"/><circle cx="32" cy="-42" r="1.2"/><circle cx="52" cy="-21" r="1.2"/><circle cx="50" cy="-17" r="1.2"/></g>
<path class="ax" d="M0,-70V0H62 M-3,0H0 M-3,-29.2H0 M-3,-58.4H0 M9.5,0V3 M30.5,0V3 M52,0V3"/>
<text class="tk" x="-5" y="3.2">0.00</text><text class="tk" x="-5" y="-26">0.05</text><text class="tk" x="-5" y="-55.2">0.10</text>
<path class="br" d="M30.5,-48V-51.3H52V-44"/>
<text class="st" x="41.25" y="-50.5">*</text>
<text class="xl" transform="translate(11.8,15.3) rotate(-45)">KO</text>
<text class="xl" transform="translate(32.8,15.3) rotate(-45)">CRL</text>
<text class="xl" transform="translate(54.3,15.3) rotate(-45)">TG</text>
<text class="yl" transform="translate(-40.7,-34) rotate(-90)">3-Methoxytyramine</text>
<text class="yl" transform="translate(-30,-34) rotate(-90)">(nmol g<tspan font-size="7" dy="-3.5">-1</tspan><tspan dy="3.5">)</tspan></text>
</g>

<g id="chart-hva" transform="translate(656,939)">
<rect class="ko" x="1.75" y="-36.1" width="15.5" height="36.1"/>
<rect class="crl" x="23.25" y="-43.8" width="15.5" height="43.8"/>
<rect class="tg" x="44.75" y="-24.9" width="15.5" height="24.9"/>
<path class="eb" d="M9.5,-36.1V-48.5M6.5,-48.5H12.5 M31,-43.8V-52M28,-52H34 M52.5,-24.9V-27.7M49.5,-27.7H55.5"/>
<g class="dt"><circle cx="9.5" cy="-58" r="1.2"/><circle cx="9.5" cy="-20" r="1.2"/><circle cx="31" cy="-60" r="1.2"/><circle cx="29" cy="-35" r="1.2"/><circle cx="33" cy="-36" r="1.2"/><circle cx="52.5" cy="-29" r="1.2"/><circle cx="50" cy="-25" r="1.2"/></g>
<path class="ax" d="M0,-70V0H63 M-3,0H0 M-3,-23.3H0 M-3,-46.6H0 M-3,-69.9H0 M9.5,0V3 M31,0V3 M52.5,0V3"/>
<text class="tk" x="-5" y="3.2">0.0</text><text class="tk" x="-5" y="-20.1">0.1</text><text class="tk" x="-5" y="-43.4">0.2</text><text class="tk" x="-5" y="-66.7">0.3</text>
<text class="xl" transform="translate(11.8,15.3) rotate(-45)">KO</text>
<text class="xl" transform="translate(33.3,15.3) rotate(-45)">CRL</text>
<text class="xl" transform="translate(54.8,15.3) rotate(-45)">TG</text>
<text class="yl" transform="translate(-29,-36) rotate(-90)">HVA</text>
<text class="yl" transform="translate(-18,-36) rotate(-90)">(nmol g<tspan font-size="7" dy="-3.5">-1</tspan><tspan dy="3.5">)</tspan></text>
</g>
</svg>
